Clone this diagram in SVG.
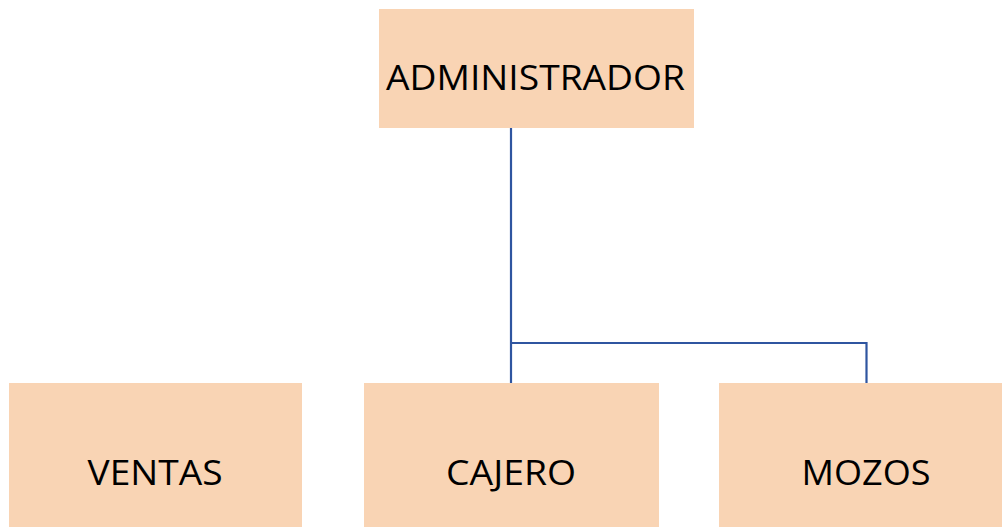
<svg xmlns="http://www.w3.org/2000/svg" width="1002" height="527" viewBox="0 0 1002 527">
<style>
.box{fill:#F9D4B4;}
.lbl{font-family:"Open Sans","Liberation Sans",sans-serif;font-size:35px;fill:#000;text-anchor:middle;}
.conn{fill:none;stroke:#2F55A0;stroke-width:2.2;}
</style>
<rect width="1002" height="527" fill="#fff"/>
<g id="connectors">
<path class="conn" d="M511,128 V383"/>
<path class="conn" d="M511,343 H866.5 V383"/>
</g>
<g id="administrador">
<rect class="box" x="379" y="9" width="315" height="119"/>
<text class="lbl" x="535.5" y="90" textLength="299" lengthAdjust="spacingAndGlyphs">ADMINISTRADOR</text>
</g>
<g id="ventas">
<rect class="box" x="9" y="383" width="293" height="144"/>
<text class="lbl" x="155" y="485" textLength="135" lengthAdjust="spacingAndGlyphs">VENTAS</text>
</g>
<g id="cajero">
<rect class="box" x="364" y="383" width="295" height="144"/>
<text class="lbl" x="511" y="485" textLength="130" lengthAdjust="spacingAndGlyphs">CAJERO</text>
</g>
<g id="mozos">
<rect class="box" x="719" y="383" width="283" height="144"/>
<text class="lbl" x="866" y="485" textLength="129" lengthAdjust="spacingAndGlyphs">MOZOS</text>
</g>
</svg>
